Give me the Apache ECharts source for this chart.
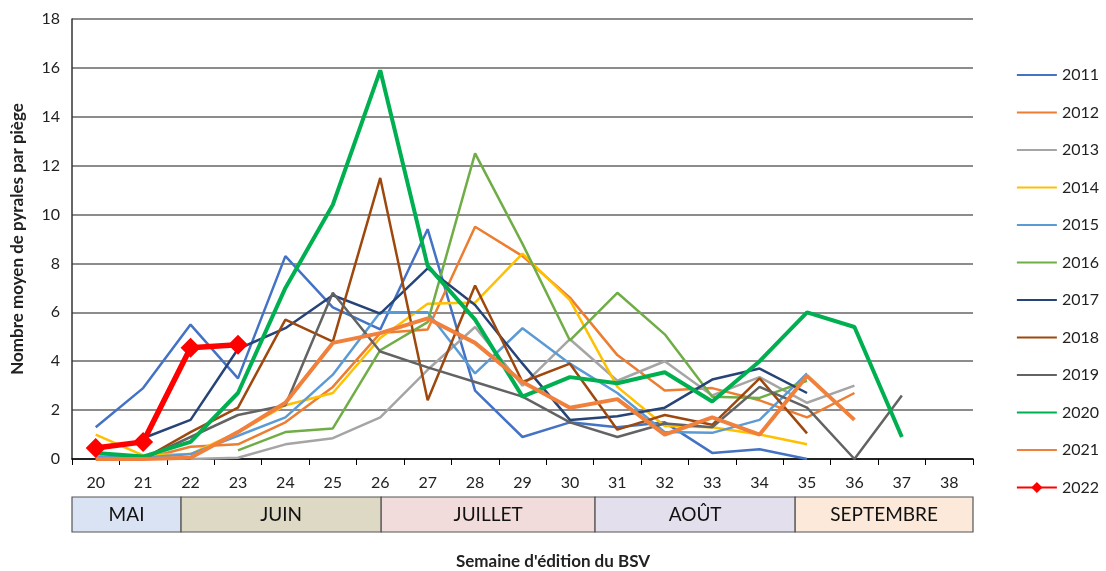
<!DOCTYPE html>
<html>
<head>
<meta charset="utf-8">
<script src="https://cdn.jsdelivr.net/npm/echarts@6/dist/echarts.min.js"></script>
<style>
  html, body { margin: 0; padding: 0; background: #fff; }
  #chart { width: 1106px; height: 571px; }
</style>
</head>
<body>
<div id="chart"></div>
<script>
// weeks (semaine d'édition du BSV)
const weeks = ['20','21','22','23','24','25','26','27','28','29','30','31','32','33','34','35','36','37','38']

// mean number of pyrales per trap, one array per year (null = no reading)
const y2011 = [1.3, 2.9, 5.5, 3.3, 8.3, 6.2, 5.3, 9.4, 2.8, 0.9, 1.5, 1.3, 1.5, 0.25, 0.4, 0, null, null, null]
const y2012 = [0, 0, 0.5, 0.6, 1.5, 2.95, 5.15, 5.3, 9.5, 8.3, 6.6, 4.25, 2.8, 2.9, 2.4, 1.7, 2.7, null, null]
const y2013 = [null, null, 0, 0.05, 0.6, 0.85, 1.7, 3.65, 5.4, 3.0, 4.9, 3.2, 4.0, 2.6, 3.35, 2.3, 3.0, null, null]
const y2014 = [1.0, 0.15, 0.2, 1.1, 2.2, 2.7, 4.95, 6.35, 6.4, 8.4, 6.5, 2.95, 1.35, 1.3, 1.0, 0.6, null, null, null]
const y2015 = [0.1, 0.05, 0.2, 0.95, 1.7, 3.45, 6.0, 6.0, 3.5, 5.35, 3.9, 2.7, 1.1, 1.07, 1.6, 3.5, null, null, null]
const y2016 = [null, null, null, 0.35, 1.1, 1.25, 4.45, 5.6, 12.5, 8.8, 4.85, 6.8, 5.1, 2.55, 2.5, 3.2, null, null, null]
const y2017 = [null, 0.85, 1.6, 4.5, 5.35, 6.7, 5.95, 7.8, 6.3, 3.9, 1.6, 1.75, 2.1, 3.25, 3.7, 2.7, null, null, null]
const y2018 = [null, 0, 1.1, 2.1, 5.7, 4.8, 11.5, 2.4, 7.1, 3.15, 3.9, 1.2, 1.8, 1.4, 3.3, 1.05, null, null, null]
const y2019 = [null, 0, 0.9, 1.8, 2.2, 6.8, 4.4, 3.75, 3.15, 2.55, 1.5, 0.9, 1.45, 1.3, 2.95, 2.1, 0, 2.6, null]
const y2020 = [0.25, 0.1, 0.7, 2.7, 7.0, 10.4, 15.9, 7.9, 5.7, 2.55, 3.35, 3.1, 3.55, 2.35, 4.0, 6.0, 5.4, 0.9, null]
const y2021 = [0, 0, 0.05, 1.1, 2.3, 4.75, 5.15, 5.75, 4.75, 3.15, 2.1, 2.45, 1.0, 1.7, 1.0, 3.4, 1.6, null, null]
const y2022 = [0.45, 0.7, 4.55, 4.67, null, null, null, null, null, null, null, null, null, null, null, null, null, null, null]

// month bands under the axis, in category units (start, end)
const months = ['MAI', 'JUIN', 'JUILLET', 'AOÛT', 'SEPTEMBRE']
const monthStart = [0, 2.3, 6.52, 11.03, 15.25]
const monthEnd = [2.3, 6.52, 11.03, 15.25, 19]
const monthColors = ['#dae3f3', '#ddd9c4', '#f2dcdb', '#e4dfec', '#fde9d9']

const chart = echarts.init(document.getElementById('chart'))

const years = [
  { name: '2011', data: y2011, color: '#4472c4', width: 2.5 },
  { name: '2012', data: y2012, color: '#ed7d31', width: 2.5 },
  { name: '2013', data: y2013, color: '#a5a5a5', width: 2.5 },
  { name: '2014', data: y2014, color: '#ffc000', width: 2.5 },
  { name: '2015', data: y2015, color: '#5b9bd5', width: 2.5 },
  { name: '2016', data: y2016, color: '#70ad47', width: 2.5 },
  { name: '2017', data: y2017, color: '#264478', width: 2.5 },
  { name: '2018', data: y2018, color: '#9e480e', width: 2.5 },
  { name: '2019', data: y2019, color: '#636363', width: 2.5 },
  { name: '2020', data: y2020, color: '#00b050', width: 4 },
  { name: '2021', data: y2021, color: '#f0803c', width: 4 }
]

const lineSeries = years.map(y => ({
  name: y.name,
  type: 'line',
  data: y.data,
  symbol: 'none',
  color: y.color,
  lineStyle: { color: y.color, width: y.width },
  z: 2
}))

lineSeries.push({
  name: '2022',
  type: 'line',
  data: y2022,
  symbol: 'diamond',
  symbolSize: 20,
  color: '#ff0000',
  itemStyle: { color: '#ff0000' },
  lineStyle: { color: '#ff0000', width: 5.5 },
  z: 5
})

const monthData = months.map((m, i) => [monthStart[i], monthEnd[i]])

// legend: plain lines for the older years, diamond for 2022
const legendData = years.map(y => ({ name: y.name, itemStyle: { opacity: 0 } }))
legendData.push({ name: '2022' })

const option = {
  animation: false,
  textStyle: { fontFamily: 'Lato, "Open Sans", sans-serif' },
  grid: [
    { left: 72, right: 133, top: 19, bottom: 112 },
    { left: 72, right: 133, top: 497, height: 35 }
  ],
  legend: {
    orient: 'vertical',
    right: 2,
    top: 62,
    itemWidth: 40,
    itemHeight: 14,
    itemGap: 21.5,
    textStyle: { fontSize: 16, color: '#222', fontFamily: 'Lato, sans-serif' },
    data: legendData
  },
  xAxis: [
    {
      type: 'category',
      data: weeks,
      gridIndex: 0,
      axisLine: { lineStyle: { color: '#000', width: 1.5 } },
      axisTick: { show: true, length: 6, lineStyle: { color: '#000' } },
      axisLabel: { fontSize: 16, color: '#222', margin: 16, fontFamily: '"Liberation Sans Narrow", Lato, sans-serif' }
    },
    {
      type: 'value',
      gridIndex: 1,
      min: 0,
      max: 19,
      show: false
    }
  ],
  yAxis: [
    {
      type: 'value',
      gridIndex: 0,
      min: 0,
      max: 18,
      interval: 2,
      name: 'Nombre moyen de pyrales par piège',
      nameLocation: 'middle',
      nameGap: 46,
      nameTextStyle: { fontSize: 17, fontWeight: 'bold', color: '#222' },
      axisLine: { show: true, lineStyle: { color: '#333', width: 1.5 } },
      axisTick: { show: false },
      axisLabel: { fontSize: 16, color: '#222', margin: 12 },
      splitLine: { lineStyle: { color: '#8c8c8c', width: 2 } }
    },
    {
      type: 'value',
      gridIndex: 1,
      min: 0,
      max: 1,
      show: false
    }
  ],
  graphic: [
    {
      type: 'text',
      left: 'center',
      top: 553,
      style: {
        text: "Semaine d'édition du BSV",
        font: 'bold 17px Lato, sans-serif',
        fill: '#222'
      }
    }
  ],
  series: lineSeries.concat([
    {
      type: 'custom',
      xAxisIndex: 1,
      yAxisIndex: 1,
      data: monthData,
      encode: { x: [0, 1] },
      renderItem: (params, api) => {
        const p0 = api.coord([api.value(0), 1])
        const p1 = api.coord([api.value(1), 0])
        const idx = params.dataIndex
        return {
          type: 'rect',
          shape: { x: p0[0], y: p0[1], width: p1[0] - p0[0], height: p1[1] - p0[1] },
          style: {
            fill: monthColors[idx],
            stroke: '#555',
            lineWidth: 1.2
          },
          textContent: {
            style: {
              text: months[idx],
              font: '19px "Liberation Sans Narrow", Lato, sans-serif',
              fill: '#111'
            }
          },
          textConfig: { position: 'inside' }
        }
      }
    }
  ])
}

chart.setOption(option)
</script>
</body>
</html>
